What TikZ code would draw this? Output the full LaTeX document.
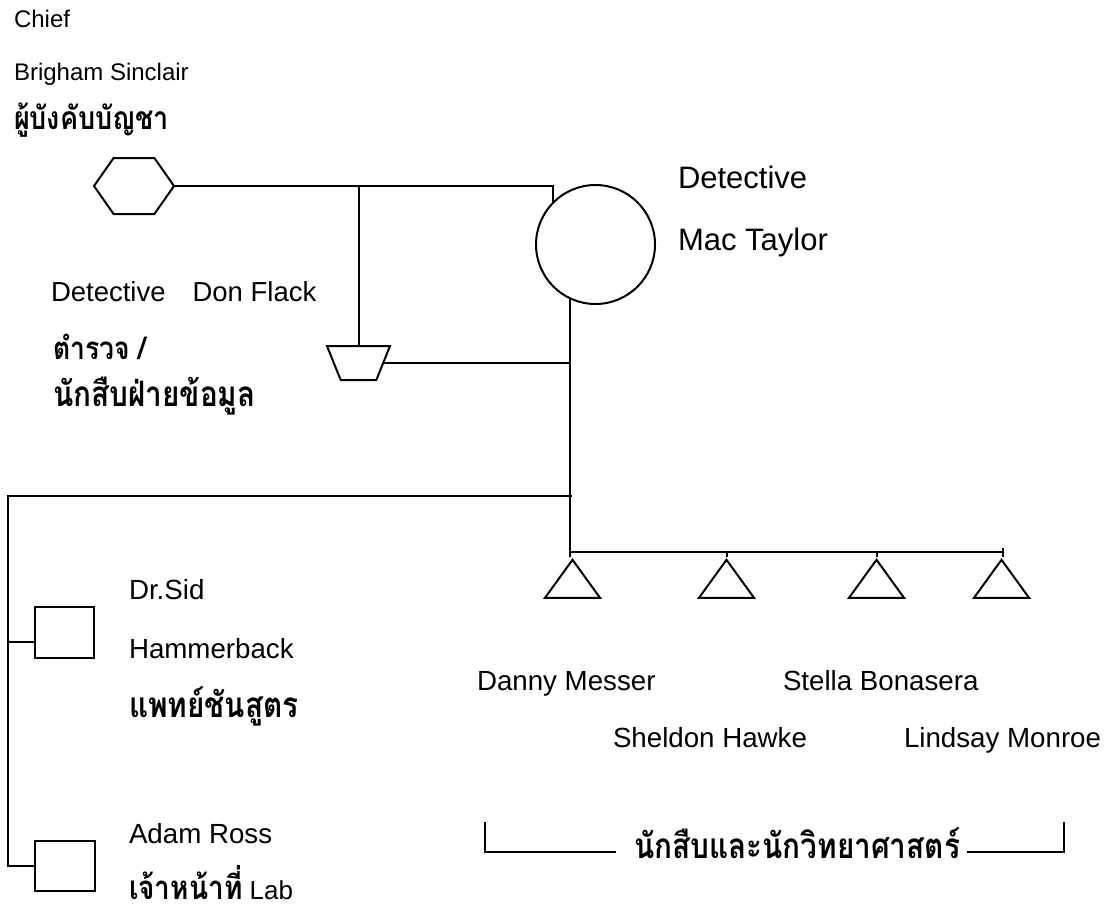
\documentclass[tikz,border=0pt]{standalone}
\usepackage{fontspec}
\setmainfont{Liberation Sans}
\newfontfamily\thaifont[Script=Thai]{Loma}
\usetikzlibrary{shapes.geometric,shapes.symbols}
\newcommand\thaitext[1]{\scalebox{1}[1.18]{#1}}

\begin{document}
\begin{tikzpicture}[x=1pt,y=-1pt,line width=2pt]
    \useasboundingbox (0,0) rectangle (1115,913);

        \begin{scope}[every node/.style={draw,inner sep=1pt}]
            \node[signal,signal to=west and east,signal pointer angle=110,minimum width=80pt,minimum height=56pt] (1) at (134,186) {};
            \node[circle,minimum size=119pt] (2) at (595.5,244.5) {};
            \node[trapezium,shape border rotate=180,trapezium stretches=true,trapezium left angle=69,trapezium right angle=69,minimum width=63pt,minimum height=34pt] (3) at (358.5,363) {};
            \node[rectangle,minimum width=59pt,minimum height=51pt] (4) at (64.5,632.5) {};
            \node[rectangle,minimum width=60pt,minimum height=50pt] (5) at (65,866) {};
        \end{scope}

        \begin{scope}[every node/.style={draw,inner sep=1pt,isosceles triangle,shape border rotate=90,isosceles triangle stretches,minimum width=55pt,minimum height=38pt}]
            \node (6) at (572.5,584) {};
            \node (7) at (726.5,584) {};
            \node (8) at (876.5,584) {};
            \node (9) at (1001.5,584) {};
        \end{scope}

        \begin{scope}[every node/.style={anchor=base west,inner sep=0pt}]
            \node[font=\fontsize{24}{28}\selectfont] (l1) at (13,27) {Chief};
            \node[font=\fontsize{24}{28}\selectfont] (l2) at (13,80) {Brigham Sinclair};
            \node[font=\thaifont\bfseries\fontsize{27}{32}\selectfont] (l3) at (13,129) {\thaitext{ผู้บังคับบัญชา}};
            \node[font=\fontsize{31}{36}\selectfont] (l4) at (677,188) {Detective};
            \node[font=\fontsize{31}{36}\selectfont] (l5) at (677,250) {Mac Taylor};
            \node[font=\fontsize{27.5}{32}\selectfont] (l6) at (50,301) {Detective\hspace{27pt}Don Flack};
            \node[font=\thaifont\bfseries\fontsize{26.5}{32}\selectfont] (l7) at (52,359) {\thaitext{ตำรวจ /}};
            \node[font=\thaifont\bfseries\fontsize{29.7}{32}\selectfont] (l8) at (52,406) {\thaitext{นักสืบฝ่ายข้อมูล}};
            \node[font=\fontsize{27.7}{32}\selectfont] (l9) at (128,599) {Dr.Sid};
            \node[font=\fontsize{27.7}{32}\selectfont] (l10) at (128,658) {Hammerback};
            \node[font=\thaifont\bfseries\fontsize{29.7}{32}\selectfont] (l11) at (128,717) {\thaitext{แพทย์ชันสูตร}};
            \node[font=\fontsize{27.7}{32}\selectfont] (l12) at (128,843) {Adam Ross};
            \node[font=\thaifont\bfseries\fontsize{28}{32}\selectfont] (l13) at (128,899) {\thaitext{เจ้าหน้าที่}\fontsize{26}{30}\selectfont\normalfont\ Lab};
            \node[font=\fontsize{27.7}{32}\selectfont] (l14) at (476,690) {Danny Messer};
            \node[font=\fontsize{27.7}{32}\selectfont] (l15) at (782,690) {Stella Bonasera};
            \node[font=\fontsize{27.7}{32}\selectfont] (l16) at (612,747) {Sheldon Hawke};
            \node[font=\fontsize{27.7}{32}\selectfont] (l17) at (903,747) {Lindsay Monroe};
            \node[font=\thaifont\bfseries\fontsize{29.7}{32}\selectfont] (l18) at (633,858) {\thaitext{นักสืบและนักวิทยาศาสตร์}};
        \end{scope}

        \coordinate (bar) at (570,552);
        \coordinate (barend) at (1003,552);
        \coordinate (labjoin) at (572,496);
        \coordinate (labcorner) at (8,496);
        \coordinate (bl) at (485,822);
        \coordinate (br) at (1064,822);
        \coordinate (bline) at (0,852);

        \draw (1.east) -| (2.north west);
        \draw (3.north) -- (3.north |- 1.east);
        \draw (3.east) -- (3.east -| 2.245);
        \draw (2.245) -- (2.245 |- 6.apex);
        \draw (bar) -- (barend);
        \draw (7.apex) -- (7.apex |- bar);
        \draw (8.apex) -- (8.apex |- bar);
        \draw ([yshift=4pt]barend) -- (barend |- 9.apex);

        \draw (labjoin) -- (labcorner) |- (5.west);
        \draw ([yshift=-9.5pt]4.west) -- ([yshift=-9.5pt]4.west -| labcorner);

        \draw (bl) |- ([xshift=-17pt]l18.west |- bline);
        \draw (br) |- ([xshift=6pt]l18.east |- bline);

    \end{tikzpicture}
\end{document}
